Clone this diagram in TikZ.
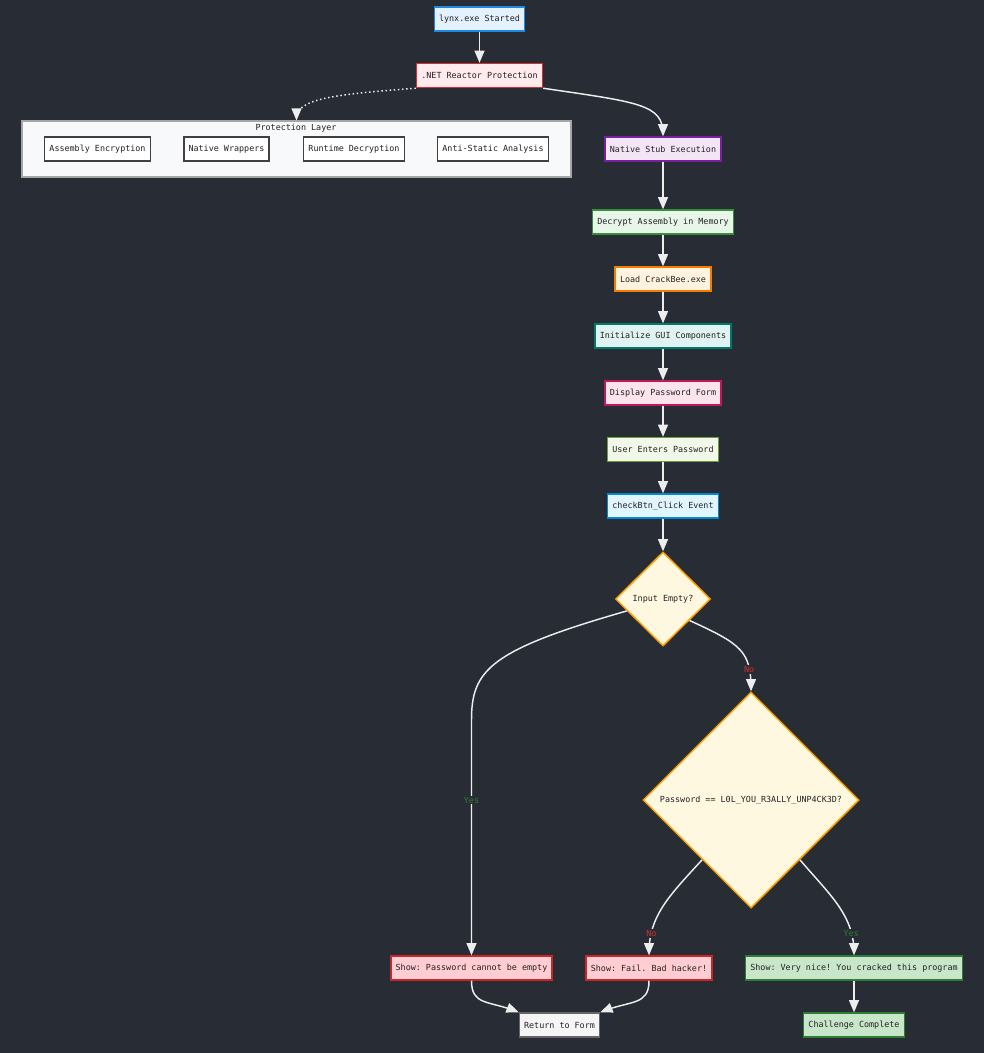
\documentclass[tikz,border=0pt]{standalone}
\usepackage{fontspec}
\setmonofont{DejaVu Sans Mono}
\usetikzlibrary{calc,arrows,shapes.geometric}

\definecolor{bg}{HTML}{282C34}
\definecolor{edge}{HTML}{EDEDED}
\definecolor{txt}{HTML}{222222}
\definecolor{yescol}{HTML}{2E7D32}
\definecolor{nocol}{HTML}{D32F2F}
\definecolor{diaF}{HTML}{FFF8E1}
\definecolor{diaB}{HTML}{FFA000}
\definecolor{okF}{HTML}{C8E6C9}
\definecolor{okB}{HTML}{2E7D32}
\definecolor{badF}{HTML}{FFCDD2}
\definecolor{badB}{HTML}{C62828}

\tikzset{
  box/.style={draw, line width=1.1pt, text=txt, minimum height=18pt,
    inner xsep=3.6pt, inner ysep=0pt},
  decide/.style={diamond, aspect=1, draw=diaB, fill=diaF, line width=1.1pt,
    text=txt, inner sep=0pt},
  flow/.style={draw=edge, line width=1.1pt, -triangle 45},
  lbl/.style={fill=bg, inner sep=1pt}
}

\begin{document}
\begin{tikzpicture}[x=0.75pt,y=-0.75pt,font=\ttfamily\fontsize{6.3}{7.5}\selectfont]
    % Background and fixed page size
    \fill[bg] (0,0) rectangle (984,1053);

    % Top of the chain
    \node[box, draw={rgb,255:red,30;green,136;blue,229}, fill={rgb,255:red,227;green,242;blue,253}] (start_exe) at (479.5,19) {lynx.exe Started};
    \node[box, draw=nocol, fill={rgb,255:red,255;green,235;blue,238}] (net_react) at (479.5,75.5) {.NET Reactor Protection};

    % Protection layer group
    \node[draw=gray!70, fill={rgb,255:red,248;green,249;blue,250}, line width=0.8pt, minimum width=411.75pt,
        minimum height=42pt, inner sep=0pt] (prot_layer) at (296.5,149) {};
    \node[text=txt] at (296,128) {Protection Layer};
    \node[box, draw=black!75, fill=white] (asm_enc) at (97.5,149) {Assembly Encryption};
    \node[box, draw=black!75, fill=white] (nat_wrap) at (226.5,149) {Native Wrappers};
    \node[box, draw=black!75, fill=white] (run_dec) at (354,149) {Runtime Decryption};
    \node[box, draw=black!75, fill=white] (anti_stat) at (493,149) {Anti-Static Analysis};

    % Main column
    \node[box, draw={rgb,255:red,123;green,31;blue,162}, fill={rgb,255:red,243;green,229;blue,245}] (stub_exec) at (663,149) {Native Stub Execution};
    \node[box, draw={rgb,255:red,56;green,142;blue,60}, fill={rgb,255:red,232;green,245;blue,233}] (dec_mem) at (663,222) {Decrypt Assembly in Memory};
    \node[box, draw={rgb,255:red,245;green,124;blue,0}, fill={rgb,255:red,255;green,243;blue,224}] (load_cb) at (663,279) {Load CrackBee.exe};
    \node[box, draw={rgb,255:red,0;green,121;blue,107}, fill={rgb,255:red,224;green,242;blue,241}] (init_gui) at (663,336) {Initialize GUI Components};
    \node[box, draw={rgb,255:red,194;green,24;blue,91}, fill={rgb,255:red,252;green,228;blue,236}] (show_form) at (663,393) {Display Password Form};
    \node[box, draw={rgb,255:red,104;green,159;blue,56}, fill={rgb,255:red,241;green,248;blue,233}] (user_pw) at (663,449.5) {User Enters Password};
    \node[box, draw={rgb,255:red,2;green,136;blue,209}, fill={rgb,255:red,225;green,245;blue,254}] (check_btn) at (663,506) {checkBtn\_Click Event};

    % Decisions
    \node[decide, minimum width=71.25pt, minimum height=70.5pt] (in_empty) at (663,599) {Input Empty?};
    \node[decide, minimum width=162pt, minimum height=162pt] (pw_check) at (751,800) {Password == L0L\_YOU\_R3ALLY\_UNP4CK3D?};

    % Outcomes
    \node[box, draw=badB, fill=badF] (msg_empty) at (471.5,968) {Show: Password cannot be empty};
    \node[box, draw=badB, fill=badF] (msg_fail) at (649,968) {Show: Fail. Bad hacker!};
    \node[box, draw=okB, fill=okF] (msg_ok) at (854,968) {Show: Very nice! You cracked this program};
    \node[box, draw=black!60, fill=black!4] (ret_form) at (559.5,1025) {Return to Form};
    \node[box, draw=okB, fill=okF] (done) at (854,1025) {Challenge Complete};

    % Connectors
    \draw[flow] (start_exe) -- (net_react);
    \draw[flow, dotted] (net_react.south west) .. controls ($(net_react.south west)+(-80,6)$)
        and ($(prot_layer.north)+(0,-22)$) .. (prot_layer.north);
    \draw[flow] (net_react.south east) .. controls ($(net_react.south east)+(95,14)$)
        and ($(stub_exec.north)+(0,-32)$) .. (stub_exec.north);
    \draw[flow] (stub_exec) -- (dec_mem);
    \draw[flow] (dec_mem) -- (load_cb);
    \draw[flow] (load_cb) -- (init_gui);
    \draw[flow] (init_gui) -- (show_form);
    \draw[flow] (show_form) -- (user_pw);
    \draw[flow] (user_pw) -- (check_btn);
    \draw[flow] (check_btn) -- (in_empty);

    \coordinate (yes_bend) at (471.5,720);
    \draw[flow] ($(in_empty.west)!0.25!(in_empty.south)$) .. controls (490,650) and (471.5,670)
        .. (yes_bend) -- node[lbl, pos=0.34, text=yescol] {Yes} (msg_empty.north);
    \draw[flow] ($(in_empty.east)!0.45!(in_empty.south)$) .. controls ($(in_empty.east)+(30,45)$)
        and ($(pw_check.north)+(0,-40)$) .. node[lbl, pos=0.78, text=nocol] {No} (pw_check.north);
    \draw[flow] ($(pw_check.west)!0.55!(pw_check.south)$) .. controls (670,895)
        and ($(msg_fail.north)+(0,-40)$) .. node[lbl, pos=0.8, text=nocol] {No} (msg_fail.north);
    \draw[flow] ($(pw_check.east)!0.55!(pw_check.south)$) .. controls (830,895)
        and ($(msg_ok.north)+(0,-40)$) .. node[lbl, pos=0.8, text=yescol] {Yes} (msg_ok.north);

    \draw[flow] (msg_empty.south) .. controls ($(msg_empty.south)+(0,25)$)
        and ($(ret_form.north west)+(-30,-12)$) .. (ret_form.north west);
    \draw[flow] (msg_fail.south) .. controls ($(msg_fail.south)+(0,25)$)
        and ($(ret_form.north east)+(30,-12)$) .. (ret_form.north east);
    \draw[flow] (msg_ok) -- (done);
\end{tikzpicture}
\end{document}
